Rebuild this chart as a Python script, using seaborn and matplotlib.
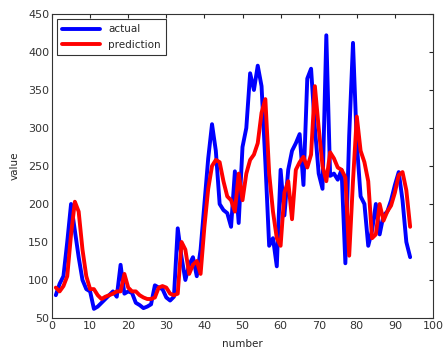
import matplotlib
matplotlib.use("Agg")
import matplotlib.pyplot as plt
import seaborn as sns
import pandas as pd
import numpy as np

actual = [80, 95, 105, 150, 200, 165, 130, 100, 88, 85,
          62, 65, 70, 75, 80, 85, 78, 120, 82, 85,
          83, 70, 67, 63, 65, 68, 93, 90, 88, 77,
          73, 78, 168, 130, 100, 120, 130, 105, 140, 200,
          260, 305, 270, 200, 192, 188, 170, 243, 175, 275,
          300, 372, 350, 382, 355, 255, 145, 155, 118, 245,
          185, 245, 270, 280, 292, 225, 365, 378, 300, 240,
          220, 422, 237, 240, 232, 245, 122, 290, 412, 280,
          210, 200, 145, 165, 200, 160, 185, 190, 205, 225,
          242, 205, 150, 130]
prediction = [90, 85, 92, 105, 160, 203, 190, 140, 105, 88,
              88, 80, 75, 78, 80, 82, 85, 85, 108, 90,
              85, 85, 80, 77, 75, 75, 77, 90, 92, 90,
              82, 80, 82, 150, 140, 108, 120, 125, 108, 170,
              220, 250, 258, 255, 230, 210, 205, 190, 240, 205,
              240, 258, 265, 280, 320, 338, 240, 190, 155, 145,
              215, 230, 180, 245, 255, 262, 248, 265, 355, 300,
              250, 230, 268, 260, 248, 245, 235, 132, 230, 315,
              270, 255, 230, 155, 160, 200, 178, 190, 198, 215,
              238, 242, 218, 170]
numbers = list(range(1, len(actual) + 1))
series_names = ["actual", "prediction"]

df = pd.DataFrame({
    "number": numbers * 2,
    "value": actual + prediction,
    "series": [series_names[0]] * len(actual) + [series_names[1]] * len(prediction),
})

sns.set_style("white")
plt.rcParams["font.family"] = ["DejaVu Sans"]

fig = plt.figure(figsize=(4.47, 3.48), dpi=100)
ax = fig.add_axes([52 / 447, 30 / 348, (433 - 52) / 447, (318 - 14) / 348])
sns.lineplot(data=df, x="number", y="value", hue="series",
             palette={"actual": "#0000ff", "prediction": "#ff0000"},
             linewidth=2.8, ax=ax)

ax.set_xlim(0, 100)
ax.set_ylim(50, 450)
ax.set_xticks(range(0, 101, 10))
ax.set_yticks(range(50, 451, 50))
ax.tick_params(direction="in", length=3, width=0.8, top=True, right=True,
               labelsize=8, labelcolor="#333333", pad=2)
for s in ax.spines.values():
    s.set_color("#333333")
    s.set_linewidth(0.8)
ax.set_xlabel("number", fontsize=7.5, labelpad=6)
ax.set_ylabel("value", fontsize=7.5, labelpad=6)

leg = ax.legend(loc="upper left", fontsize=7.5, frameon=True, fancybox=False,
                edgecolor="black", borderpad=0.5, handlelength=3.6,
                labelspacing=0.55, borderaxespad=0.5)
leg.get_frame().set_linewidth(0.8)
leg.set_title(None)

fig.savefig("out.png", dpi=100)
